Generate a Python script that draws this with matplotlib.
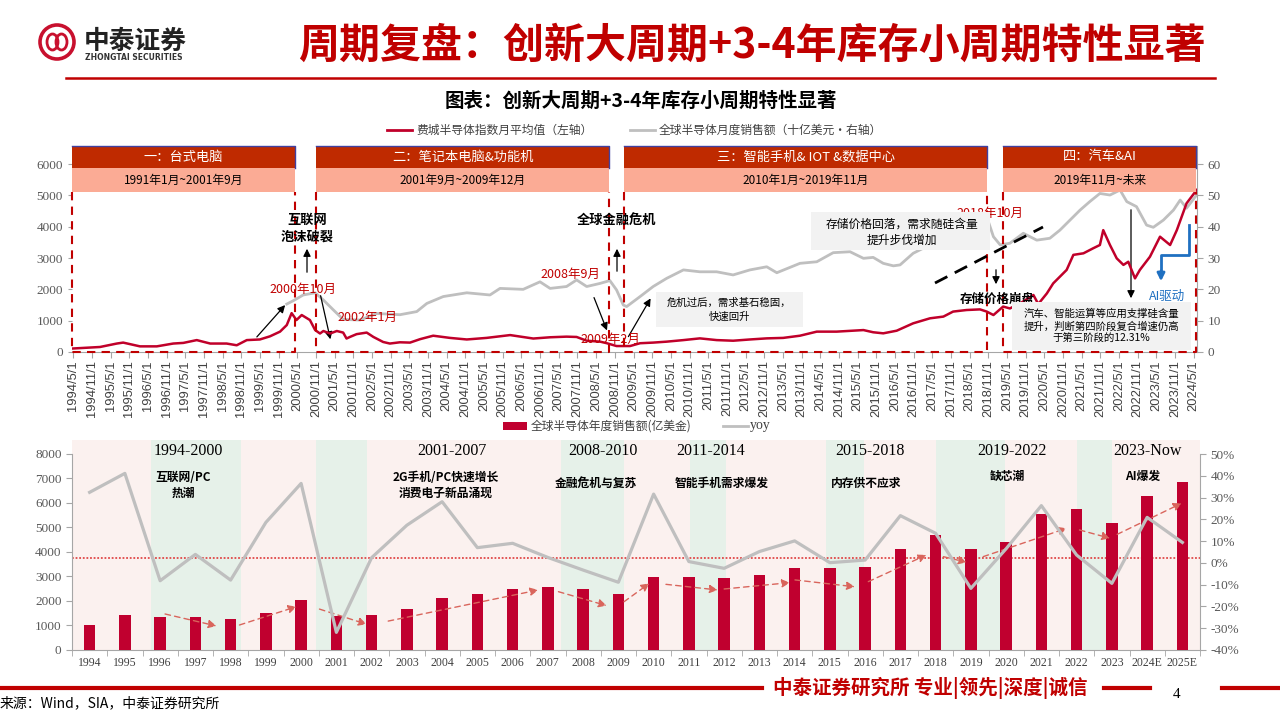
import numpy as np
import matplotlib
matplotlib.use('Agg')
import matplotlib.pyplot as plt
from matplotlib.patches import Rectangle, Ellipse
from matplotlib.lines import Line2D

CJK = ['Noto Sans CJK SC', 'DejaVu Sans']
SERIF = ['Liberation Serif', 'DejaVu Serif']
plt.rcParams['font.family'] = CJK
plt.rcParams['axes.unicode_minus'] = False

#======================================================
# data: top chart (monthly curves)
sox_t = [1994.30, 1995.05, 1995.50, 1995.67, 1996.12, 1996.57, 1997.01, 1997.28, 1997.64, 1998.00,
         1998.44, 1998.71, 1998.98, 1999.33, 1999.60, 1999.87, 2000.05, 2000.18, 2000.31, 2000.45,
         2000.67, 2000.81, 2000.94, 2001.03, 2001.21, 2001.39, 2001.56, 2001.65, 2001.74, 2001.92,
         2002.19, 2002.37, 2002.63, 2002.81, 2003.08, 2003.35, 2003.62, 2003.97, 2004.42, 2004.87,
         2005.40, 2006.03, 2006.65, 2007.10, 2007.54, 2007.81, 2008.08, 2008.44, 2008.62, 2008.88,
         2009.24, 2009.51, 2009.86, 2010.22, 2010.67, 2011.11, 2011.56, 2012.00, 2012.45, 2012.90,
         2013.34, 2013.79, 2014.24, 2014.77, 2015.49, 2015.75, 2016.02, 2016.38, 2016.82, 2017.27,
         2017.63, 2017.89, 2018.25, 2018.61, 2018.79, 2018.97, 2019.23, 2019.41, 2019.68, 2020.04,
         2020.17, 2020.40, 2020.57, 2020.93, 2021.11, 2021.38, 2021.64, 2021.82, 2021.91, 2022.09,
         2022.27, 2022.45, 2022.58, 2022.76, 2022.89, 2023.16, 2023.43, 2023.70, 2023.88, 2024.14,
         2024.41]
sox_v = [110, 160, 270, 300, 180, 180, 270, 290, 380, 270,
         270, 215, 380, 400, 500, 650, 860, 1240, 1020, 1180,
         1020, 700, 590, 670, 590, 670, 620, 430, 480, 570,
         620, 480, 320, 270, 310, 300, 410, 520, 450, 400,
         450, 540, 430, 470, 490, 480, 360, 330, 280, 190,
         190, 280, 300, 330, 380, 435, 380, 360, 400, 435,
         450, 520, 650, 650, 700, 630, 596, 680, 915, 1075,
         1130, 1290, 1340, 1360, 1290, 1180, 1450, 1390, 1550, 1820,
         1530, 1870, 2190, 2620, 3100, 3150, 3310, 3415, 3890, 3415,
         2990, 2780, 2880, 2350, 2620, 3040, 3680, 3415, 3890, 4745,
         5170]

semi_t = [2000.05, 2000.23, 2000.49, 2000.81, 2001.03, 2001.30, 2001.56, 2002.01, 2002.46, 2003.08,
          2003.53, 2003.80, 2004.24, 2004.87, 2005.49, 2005.76, 2006.38, 2006.83, 2007.10, 2007.54,
          2007.81, 2008.08, 2008.44, 2008.70, 2008.88, 2009.06, 2009.15, 2009.51, 2009.86, 2010.22,
          2010.67, 2011.11, 2011.56, 2012.00, 2012.45, 2012.90, 2013.17, 2013.79, 2014.24, 2014.68,
          2015.13, 2015.49, 2015.75, 2016.02, 2016.29, 2016.47, 2016.82, 2017.27, 2017.72, 2018.16,
          2018.52, 2018.79, 2018.97, 2019.15, 2019.41, 2019.77, 2020.13, 2020.48, 2020.75, 2021.02,
          2021.29, 2021.55, 2021.82, 2022.09, 2022.36, 2022.54, 2022.80, 2023.07, 2023.25, 2023.52,
          2023.79, 2023.97, 2024.14, 2024.41]
semi_v = [15.3, 16.4, 18.2, 18.9, 16.6, 13.4, 10.4, 10.2, 12.3, 11.9,
          12.9, 15.5, 17.7, 18.9, 18.2, 20.3, 20.0, 22.4, 20.3, 20.9,
          23.0, 20.9, 21.9, 22.8, 19.8, 15.0, 14.5, 17.7, 20.9, 23.5,
          26.2, 25.6, 25.6, 24.6, 26.2, 27.2, 25.3, 28.3, 28.8, 31.7,
          32.0, 29.9, 30.2, 28.3, 27.5, 27.8, 31.5, 34.2, 36.8, 40.0,
          42.7, 43.2, 36.8, 34.2, 34.7, 37.9, 35.7, 36.3, 38.9, 42.1,
          45.3, 48.0, 50.6, 50.1, 51.7, 48.0, 46.4, 40.5, 39.8, 42.1,
          45.3, 48.5, 45.9, 50.1]

band_x0 = [1994.30, 2000.83, 2009.08, 2019.23]
band_x1 = [2000.27, 2008.68, 2018.80, 2024.40]
band_title = ['一：台式电脑', '二：笔记本电脑&功能机', '三：智能手机& IOT &数据中心', '四：汽车&AI']
band_range = ['1991年1月~2001年9月', '2001年9月~2009年12月', '2010年1月~2019年11月', '2019年11月~未来']

#======================================================
# data: bottom chart (annual)
yr_lbl = [str(y) for y in range(1994, 2024)] + ['2024E', '2025E']
sales = [1020, 1430, 1330, 1360, 1265, 1500, 2040, 1390, 1410, 1660,
         2135, 2270, 2475, 2555, 2475, 2270, 2980, 2990, 2925, 3045,
         3360, 3345, 3390, 4120, 4690, 4120, 4390, 5550, 5740, 5200,
         6280, 6870]
yoy = [32.4, 41.1, -8.2, 3.9, -7.9, 18.6, 36.5, -31.9, 2.4, 17.3,
       28.1, 7.0, 9.0, 2.5, -3.3, -8.9, 31.6, 0.6, -2.5, 5.2,
       10.1, 0.1, 1.3, 21.7, 13.6, -11.7, 6.5, 26.3, 3.6, -9.4,
       20.9, 9.4]
avg_line = 3740

green_a = [1.75, 6.42, 13.37, 17.03, 20.90, 24.00, 28.00]
green_b = [4.30, 7.86, 15.16, 18.05, 21.97, 25.97, 28.99]

period_lbl = ['1994-2000', '2001-2007', '2008-2010', '2011-2014', '2015-2018', '2019-2022', '2023-Now']
period_x = [2.79, 10.28, 14.56, 17.63, 22.14, 26.17, 30.02]
theme_lbl = ['互联网/PC\n热潮', '2G手机/PC快速增长\n消费电子新品涌现', '金融危机与复苏', '智能手机需求爆发',
             '内存供不应求', '缺芯潮', 'AI爆发']
theme_x = [2.65, 10.1, 14.37, 17.94, 22.03, 26.03, 29.88]
theme_y = [6730, 6730, 6816, 6816, 6816, 7100, 7100]

trend = [(2.14, 1470, 3.60, 980), (4.25, 1020, 5.87, 1770), (6.52, 1670, 7.86, 1050),
         (8.47, 1180, 12.73, 2450), (13.30, 2380, 14.67, 1810), (15.16, 1970, 15.88, 2720),
         (16.35, 2680, 17.82, 2450), (18.00, 2490, 19.87, 2750), (20.01, 2860, 21.71, 2580),
         (22.09, 2790, 23.74, 3880), (24.22, 3810, 24.88, 3580), (25.35, 3810, 27.72, 4970),
         (28.08, 4900, 28.95, 4560), (29.15, 4720, 30.98, 5990)]

#======================================================
fig = plt.figure(figsize=(12.8, 7.2), dpi=100)


def fx(x):
    return x / 1280.0


def fy(y):
    return 1 - y / 720.0


def line_px(xs, ys, **kw):
    fig.add_artist(Line2D([fx(v) for v in xs], [fy(v) for v in ys], transform=fig.transFigure, **kw))


def arrow_px(x0, y0, x1, y1, color='black', lw=0.9):
    fig.add_artist(matplotlib.patches.FancyArrowPatch((fx(x0), fy(y0)), (fx(x1), fy(y1)),
                                                      transform=fig.transFigure, arrowstyle='-|>',
                                                      mutation_scale=11, color=color, lw=lw))


def box_px(x0, y0, x1, y1):
    fig.add_artist(Rectangle((fx(x0), fy(y1)), fx(x1) - fx(x0), fy(y0) - fy(y1),
                             transform=fig.transFigure, fc='#f2f2f2', ec='none', zorder=5))

# header
RED = '#c00000'
fig.add_artist(Ellipse((fx(57), fy(42)), 34 / 1280, 34 / 720, transform=fig.transFigure,
                       fill=False, ec='#c8102e', lw=2.6))
fig.add_artist(Ellipse((fx(52.5), fy(42)), 11 / 1280, 16 / 720, transform=fig.transFigure,
                       fill=False, ec='#c8102e', lw=2))
fig.add_artist(Ellipse((fx(61.5), fy(42)), 11 / 1280, 16 / 720, transform=fig.transFigure,
                       fill=False, ec='#c8102e', lw=2))
fig.text(fx(84), fy(41), '中泰证券', fontsize=18.5, fontweight='bold', color='#222222', va='center')
fig.text(fx(85), fy(58), 'ZHONGTAI SECURITIES', fontsize=5.5, fontweight='bold',
         family='DejaVu Sans', color='#333333', va='center')
fig.text(fx(752), fy(46), '周期复盘：创新大周期+3-4年库存小周期特性显著', fontsize=29.5,
         fontweight='bold', color=RED, ha='center', va='center')
line_px([66, 1215], [78, 78], color=RED, lw=1.8)
fig.text(fx(641), fy(101), '图表：创新大周期+3-4年库存小周期特性显著', fontsize=14,
         fontweight='bold', ha='center', va='center')

# top legend
line_px([387, 412], [130, 130], color='#c0002a', lw=2)
fig.text(fx(416), fy(130), '费城半导体指数月平均值（左轴）', fontsize=8.5, color='#404040', va='center')
line_px([630, 655], [130, 130], color='#bfbfbf', lw=2)
fig.text(fx(659), fy(130), '全球半导体月度销售额（十亿美元·右轴）', fontsize=8.5, color='#404040', va='center')

#======================================================
# top chart
ax1 = fig.add_axes([fx(72), fy(352), 1125 / 1280, 206 / 720])
ax1r = ax1.twinx()
ax1r.plot(semi_t, semi_v, color='#bfbfbf', lw=2)
ax1.plot(sox_t, sox_v, color='#c0002a', lw=1.8, zorder=4)
ax1.set_zorder(ax1r.get_zorder() + 1)
ax1.patch.set_visible(False)

ax1.set_xlim(1994.30, 2024.42)
ax1.set_ylim(0, 6575)
ax1r.set_ylim(0, 65.75)
ax1.set_yticks(range(0, 6001, 1000))
ax1r.set_yticks(range(0, 61, 10))

xt = [1994 + 4 / 12 + 0.5 * i for i in range(61)]
xl = ['%d/%d/1' % (1994 + i // 2, 5 if i % 2 == 0 else 11) for i in range(61)]
ax1.set_xticks(xt)
ax1.set_xticklabels(xl, rotation=90, fontsize=9.3, family='Liberation Sans', color='#404040')
for lab in ax1.get_yticklabels():
    lab.set_family(SERIF)
for lab in ax1r.get_yticklabels():
    lab.set_family(SERIF)
ax1.tick_params(axis='y', labelsize=9.5, labelcolor='#595959', length=3, color='#a6a6a6')
ax1r.tick_params(axis='y', labelsize=9.5, labelcolor='#595959', length=4, color='#a6a6a6')
ax1.tick_params(axis='x', length=4, color='#a6a6a6', pad=2)
for s in ['left', 'top', 'right']:
    ax1.spines[s].set_visible(False)
for s in ['left', 'top', 'bottom']:
    ax1r.spines[s].set_visible(False)
ax1.spines['bottom'].set_color('#a6a6a6')
ax1r.spines['right'].set_color('#a6a6a6')

y_h0, y_h1, y_s0 = 5873, 6575, 5107
for x0, x1, t1, t2 in zip(band_x0, band_x1, band_title, band_range):
    ax1.add_patch(Rectangle((x0, y_h0), x1 - x0, y_h1 - y_h0, fc='#bf2a00', ec='none', zorder=6))
    ax1.add_patch(Rectangle((x0, y_s0), x1 - x0, y_h0 - y_s0, fc='#fbab95', ec='none', zorder=6))
    ax1.plot([x0, x1, x1], [y_h1, y_h1, y_h0], color='#4040a0', lw=1, zorder=7, clip_on=False)
    ax1.plot([x0, x0, x1, x1], [y_s0, 0, 0, y_s0], color=RED, lw=1.5, ls=(0, (4, 3)),
             zorder=7, clip_on=False)
    ax1.text((x0 + x1) / 2, (y_h0 + y_h1) / 2, t1, color='white', fontsize=9.5,
             ha='center', va='center', zorder=8)
    ax1.text((x0 + x1) / 2, (y_s0 + y_h0) / 2, t2, color='black', fontsize=8.5,
             ha='center', va='center', zorder=8)

# top annotations
fig.text(fx(307), fy(228), '互联网\n泡沫破裂', fontsize=9.5, fontweight='bold', ha='center',
         va='center', linespacing=1.25)
arrow_px(307, 275, 307, 246)
fig.text(fx(303), fy(289), '2000年10月', fontsize=9, color=RED, ha='center', va='center')
arrow_px(255, 339, 287, 303)
arrow_px(320, 293, 331, 342)
fig.text(fx(367), fy(317), '2002年1月', fontsize=9, color=RED, ha='center', va='center')

fig.text(fx(617), fy(221), '全球金融危机', fontsize=9.5, fontweight='bold', ha='center', va='center')
arrow_px(617, 274, 617, 246)
fig.text(fx(570), fy(274), '2008年9月', fontsize=9, color=RED, ha='center', va='center')
arrow_px(593, 295, 608, 333)
fig.text(fx(610), fy(339), '2009年2月', fontsize=9, color=RED, ha='center', va='center')
arrow_px(627, 339, 652, 296)
box_px(656, 292, 803, 327)
fig.text(fx(729), fy(310), '危机过后，需求基石稳固，\n快速回升', fontsize=7.5, ha='center',
         va='center', linespacing=1.4, zorder=6)

box_px(811, 212, 990, 250)
fig.text(fx(902), fy(232), '存储价格回落，需求随硅含量\n提升步伐增加', fontsize=8.5, ha='center',
         va='center', linespacing=1.3, zorder=6)
fig.text(fx(990), fy(213), '2018年10月', fontsize=9, color=RED, ha='center', va='center')
line_px([935, 1043], [283, 227], color='black', lw=2, ls=(0, (5, 3)))
arrow_px(996, 267, 996, 287)
fig.text(fx(997), fy(299), '存储价格崩盘', fontsize=9, fontweight='bold', ha='center', va='center')
arrow_px(1131, 207, 1131, 301)
box_px(1012, 302, 1191, 350)
fig.text(fx(1101), fy(326), '汽车、智能运算等应用支撑硅含量\n提升，判断第四阶段复合增速仍高\n于第三阶段的12.31%',
         fontsize=7.5, ha='center', va='center', linespacing=1.3, zorder=6)
BLUE = '#1f70c1'
line_px([1189, 1189, 1161, 1161], [225, 255, 255, 272], color=BLUE, lw=2)
arrow_px(1161, 268, 1161, 284, color=BLUE, lw=2)
fig.text(fx(1167), fy(296), 'AI驱动', fontsize=9, color=BLUE, ha='center', va='center')

#======================================================
# bottom legend
fig.add_artist(Rectangle((fx(503), fy(430)), 24 / 1280, 8 / 720, transform=fig.transFigure,
                         fc='#c0002f', ec='none'))
fig.text(fx(531), fy(426), '全球半导体年度销售额(亿美金)', fontsize=8.5, color='#404040', va='center')
line_px([723, 748], [426, 426], color='#bfbfbf', lw=2)
fig.text(fx(750), fy(426), 'yoy', fontsize=10, family=SERIF, color='#404040', va='center')

# bottom chart
x = np.arange(len(yr_lbl))
ax2 = fig.add_axes([fx(72), fy(650), 1128 / 1280, 210 / 720])
ax2.set_facecolor('#fbf1ef')
for a, b in zip(green_a, green_b):
    ax2.axvspan(a, b, color='#e6f1e9', lw=0, zorder=0)
ax2.bar(x, sales, width=0.32, color='#c0002f', zorder=3)
ax2.axhline(avg_line, color='#e04848', ls=(0, (1, 1)), lw=1.3, zorder=2)
for x0, y0, x1, y1 in trend:
    ax2.annotate('', xy=(x1, y1), xytext=(x0, y0),
                 arrowprops=dict(arrowstyle='-|>', color='#d9655c', lw=1, ls=(0, (4, 3)),
                                 mutation_scale=12, shrinkA=0, shrinkB=0), zorder=4)
ax2r = ax2.twinx()
ax2r.plot(x, yoy, color='#bfbfbf', lw=2.3)

ax2.set_xlim(-0.5, len(yr_lbl) - 0.5)
ax2.set_ylim(0, 8571)
ax2r.set_ylim(-40, 56.43)
ax2.set_yticks(range(0, 8001, 1000))
ax2r.set_yticks(range(-40, 51, 10))
ax2r.set_yticklabels(['%d%%' % v for v in range(-40, 51, 10)])
ax2.set_xticks(x)
ax2.set_xticklabels(yr_lbl, fontsize=8.5, family=SERIF, color='#404040')
ax2.set_xticks(np.arange(-0.5, len(yr_lbl)), minor=True)
ax2.tick_params(axis='x', which='major', length=0, pad=5)
ax2.tick_params(axis='x', which='minor', length=4, color='#a6a6a6')
for lab in ax2.get_yticklabels() + ax2r.get_yticklabels():
    lab.set_family(SERIF)
ax2.tick_params(axis='y', labelsize=9.5, labelcolor='#595959', length=4, color='#a6a6a6')
ax2r.tick_params(axis='y', labelsize=9.5, labelcolor='#595959', length=4, color='#a6a6a6')
for s in ['top', 'right']:
    ax2.spines[s].set_visible(False)
for s in ['top', 'left', 'bottom']:
    ax2r.spines[s].set_visible(False)
ax2.spines['left'].set_color('#a6a6a6')
ax2.spines['bottom'].set_color('#a6a6a6')
ax2r.spines['right'].set_color('#a6a6a6')
ax2.spines['left'].set_bounds(0, 8000)
ax2r.spines['right'].set_bounds(-40, 50)

for lbl, px in zip(period_lbl, period_x):
    ax2.text(px, 8120, lbl, fontsize=11.5, family=SERIF, ha='center', va='center', zorder=6)
for lbl, px, py in zip(theme_lbl, theme_x, theme_y):
    ax2.text(px, py, lbl, fontsize=8.5, fontweight='bold', ha='center', va='center',
             linespacing=1.3, zorder=6)

#======================================================
# footer
line_px([0, 762], [688, 688], color=RED, lw=3)
fig.text(fx(773), fy(688), '中泰证券研究所 专业|领先|深度|诚信', fontsize=14, fontweight='bold',
         color=RED, va='center')
line_px([1104, 1150], [688, 688], color=RED, lw=3)
fig.text(fx(1177), fy(694), '4', fontsize=11, family=SERIF, ha='center', va='center')
line_px([1222, 1280], [688, 688], color=RED, lw=3)
fig.text(fx(0), fy(703), '来源：Wind，SIA，中泰证券研究所', fontsize=10, va='center')

fig.savefig('out.png', dpi=100)
